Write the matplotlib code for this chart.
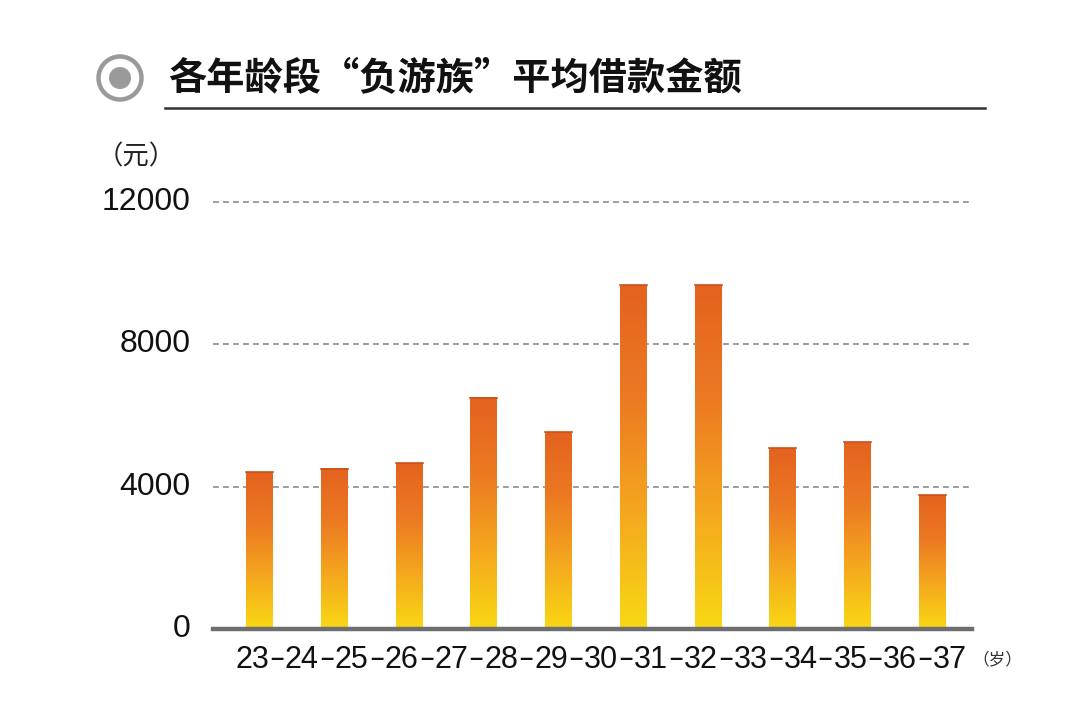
import numpy as np
import matplotlib.pyplot as plt
from matplotlib.colors import LinearSegmentedColormap
from matplotlib.patches import Circle

plt.rcParams['font.family'] = ['Liberation Sans', 'Noto Sans CJK SC', 'DejaVu Sans']

# ==== data ====
ages = ['23', '24', '25', '26', '27', '28', '29', '30', '31', '32', '33', '34', '35', '36', '37']
loan = [4400, 4500, 4660, 6500, 5530, 9660, 9660, 5080, 5250, 3760]
yticks = [0, 4000, 8000, 12000]
title = '各年龄段“负游族”平均借款金额'
# ==============

W, H = 1081, 702
fig = plt.figure(figsize=(W / 100, H / 100), dpi=100)
fig.patch.set_facecolor('white')

# axes placed in pixel coords: x 213..972, y 0 at 629
ax = fig.add_axes([213 / W, (H - 629) / H, (972 - 213) / W, (629 - 184.2) / H])
ax.set_xlim(-0.622, 9.528)
ax.set_ylim(0, 12500)
for s in ax.spines.values():
    s.set_visible(False)
ax.set_xticks([])
ax.set_yticks([])

# dashed grid
for yv in yticks[1:]:
    ax.axhline(yv, color='#8c8c8c', lw=1.2, ls=(0, (3.5, 2.5)), zorder=1)

# gradient bars
cmap = LinearSegmentedColormap.from_list('bar', ['#f9d814', '#f5a81e', '#ec7a22', '#e4621f'])
grad = np.linspace(0, 1, 256).reshape(-1, 1)
bw = 0.361
x = np.arange(len(loan))
for xi, v in zip(x, loan):
    ax.imshow(grad, cmap=cmap, origin='lower', aspect='auto',
              extent=[xi - bw / 2, xi + bw / 2, 0, v], zorder=2)
    ax.plot([xi - bw / 2, xi + bw / 2], [v, v], color='#c9531c', lw=1.2, zorder=3)
ax.set_xlim(-0.622, 9.528)
ax.set_ylim(0, 12500)

# baseline
ax.axhline(0, color='#6e6e6e', lw=3.2, zorder=4, clip_on=False)

# y labels
for yv in yticks:
    ax.text(-0.92, yv, str(yv), ha='right', va='center', fontsize=23, color='#111111')
fig.text(97 / W, 1 - 157 / H, '（元）', ha='left', va='center', fontsize=19,
         family=['Noto Sans CJK SC'], color='#222222')

# age labels, spread evenly under the bars with dashes in between
x0, x1 = 252, 950
step = (x1 - x0) / (len(ages) - 1)
for i, a in enumerate(ages):
    fig.text((x0 + i * step) / W, 1 - 660 / H, a, ha='center', va='center',
             fontsize=22, color='#111111')
    if i < len(ages) - 1:
        fig.text((x0 + (i + 0.5) * step) / W, 1 - 659 / H, '–', ha='center',
                 va='center', fontsize=17, fontweight='bold', color='#111111')
fig.text(997 / W, 1 - 660 / H, '（岁）', ha='center', va='center', fontsize=12,
         family=['Noto Sans CJK SC'], color='#333333')

# title
fig.text(168 / W, 1 - 79 / H, title, ha='left', va='center', fontsize=27.5,
         fontweight='bold', family=['Noto Sans CJK SC'], color='#111111')
fig.add_artist(plt.Line2D([165 / W, 985 / W], [1 - 108 / H, 1 - 108 / H],
                          color='#333333', lw=1.8))
ring_ax = fig.add_axes([90 / W, 1 - 108 / H, 60 / W, 60 / H])
ring_ax.set_xlim(-30, 30)
ring_ax.set_ylim(-30, 30)
ring_ax.set_aspect('equal')
ring_ax.axis('off')
ring_ax.add_patch(Circle((0, 0), 21.5, fill=False, ec='#9a9a9a', lw=3.2))
ring_ax.add_patch(Circle((0, 0), 11, fc='#9a9a9a', ec='none'))

fig.savefig('out.png', dpi=100, facecolor='white')
